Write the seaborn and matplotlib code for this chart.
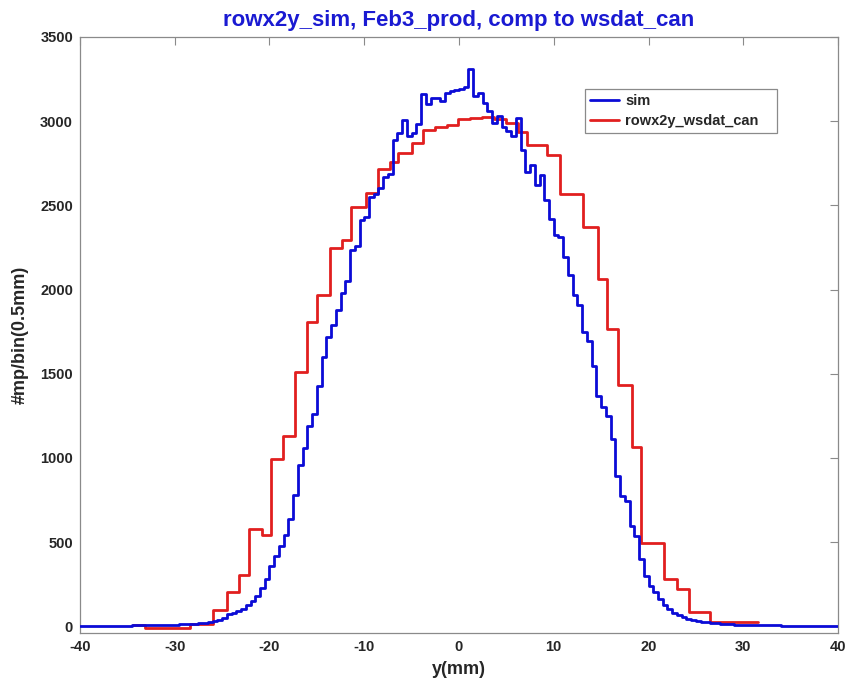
import numpy as np
import pandas as pd
import matplotlib
matplotlib.use("Agg")
import matplotlib.pyplot as plt
import seaborn as sns

# ---------------- data ----------------
title_text = "rowx2y_sim, Feb3_prod, comp to wsdat_can"
x_label = "y(mm)"
y_label = "#mp/bin(0.5mm)"
sim_label = "sim"
can_label = "rowx2y_wsdat_can"

x_ticks = [-40, -30, -20, -10, 0, 10, 20, 30, 40]
y_ticks = [0, 500, 1000, 1500, 2000, 2500, 3000, 3500]

# simulated histogram, 0.5 mm bins starting at -40 mm
sim_x_start = -40.0
sim_bin_width = 0.5
sim_counts = [
    2, 2, 2, 2, 3, 3, 3, 3, 4, 4,                       # -40 .. -35
    4, 5, 5, 5, 6, 6, 7, 8, 8, 9,                       # -35 .. -30
    10, 11, 12, 14, 16, 18, 21, 25,                     # -30 .. -26
    30, 40, 50, 70, 80, 90, 105, 125, 150, 180,         # -26 .. -21
    230, 280, 355, 415, 475, 545, 635, 780, 960, 1060,  # -21 .. -16
    1190, 1260, 1425, 1600, 1720, 1790, 1880, 1980, 2050, 2236,  # -16 .. -11
    2260, 2414, 2430, 2552, 2570, 2605, 2670, 2685, 2888, 2930,  # -11 .. -6
    3006, 2910, 2930, 2985, 3160, 3100, 3135, 3140, 3120, 3170,  # -6 .. -1
    3180, 3185, 3190, 3205, 3310, 3150, 3170, 3110, 3060, 2990,  # -1 .. 4
    3030, 2965, 2940, 2910, 3016, 2830, 2700, 2740, 2620, 2680,  # 4 .. 9
    2530, 2420, 2325, 2310, 2196, 2087, 1969, 1909, 1750, 1692,  # 9 .. 14
    1543, 1370, 1300, 1250, 1115, 895, 775, 745, 595, 535,       # 14 .. 19
    400, 300, 240, 205, 160, 125, 100, 80, 68, 55,               # 19 .. 24
    45, 38, 32, 28, 24, 20, 17, 14, 12, 11,                      # 24 .. 29
    10, 9,                                                       # 29 .. 30
    8, 7, 7, 6, 6, 5, 5, 5, 4, 4,                                # 30 .. 35
    4, 3, 3, 3, 3, 3, 2, 2, 2, 2,                                # 35 .. 40
]

# measured (wire scanner) profile: step edges (mm) and levels
can_edges = [-34.4, -33.14, -28.39, -26.0, -24.52, -23.22, -22.2, -20.82,
             -19.81, -18.54, -17.31, -16.07, -14.96, -13.61, -12.38, -11.35,
             -9.82, -8.52, -7.28, -6.41, -4.99, -3.77, -2.53, -1.30, -0.11,
             1.16, 2.43, 3.69, 4.96, 6.23, 7.18, 9.29, 10.66, 13.12, 14.70,
             15.67, 16.83, 18.23, 19.21, 21.64, 22.98, 24.31, 26.49, 31.59]
can_levels = [6, -8, 12, 97, 206, 302, 575, 545,
              992, 1132, 1510, 1810, 1969, 2249, 2295, 2492,
              2572, 2714, 2760, 2812, 2868, 2947, 2965, 2980, 3012,
              3020, 3022, 3010, 2990, 2935, 2860, 2798, 2568, 2374, 2065,
              1768, 1435, 1063, 496, 279, 219, 85, 28]

# ---------------- figure ----------------
sns.set_style("white")
plt.rcParams["font.family"] = ["Liberation Sans", "DejaVu Sans"]
plt.rcParams["font.weight"] = "bold"

W, H = 858, 679
fig = plt.figure(figsize=(W / 100, H / 100), dpi=100)
ax = fig.add_axes([80 / W, 1 - 633 / H, 758 / W, 596 / H])

sim_edges = sim_x_start + sim_bin_width * np.arange(len(sim_counts) + 1)
sim_df = pd.DataFrame({"x": sim_edges, "y": list(sim_counts) + [sim_counts[-1]]})
can_df = pd.DataFrame({"x": can_edges, "y": list(can_levels) + [can_levels[-1]]})

blue = "#0b0bd6"
red = "#e11f1f"

sns.lineplot(data=sim_df, x="x", y="y", drawstyle="steps-post", estimator=None,
             sort=False, color=blue, linewidth=2.0, label=sim_label, ax=ax, zorder=3)
sns.lineplot(data=can_df, x="x", y="y", drawstyle="steps-post", estimator=None,
             sort=False, color=red, linewidth=2.0, label=can_label, ax=ax, zorder=2)

ax.set_xlim(-40, 40)
ax.set_ylim(-40, 3500)
ax.set_xticks(x_ticks)
ax.set_yticks(y_ticks)
ax.set_xticklabels([str(t) for t in x_ticks], fontsize=10.5, fontweight="bold")
ax.set_yticklabels([str(t) for t in y_ticks], fontsize=10.5, fontweight="bold")
ax.tick_params(direction="in", top=True, right=True, length=5.5, width=0.8,
               color="#8a8a8a", pad=5)
for s in ax.spines.values():
    s.set_color("#8a8a8a")
    s.set_linewidth(0.9)

ax.set_xlabel(x_label, fontsize=13, fontweight="bold", labelpad=5)
ax.set_ylabel(y_label, fontsize=13, fontweight="bold", labelpad=8)
ax.set_title(title_text, fontsize=16, fontweight="bold", color="#1a1ad2", pad=8)

# legend box: pixel box (585..777, 89..134) expressed in axes fraction
lx0 = (585 - 80) / 758
lw = (777 - 585) / 758
ltop = (633 - 89) / 596
lh = (134 - 89) / 596
leg = ax.legend(loc="upper left", bbox_to_anchor=(lx0, ltop - lh, lw, lh),
                mode="expand", frameon=True,
                fancybox=False, edgecolor="#8a8a8a", framealpha=1,
                prop={"size": 10.5, "weight": "bold"}, handlelength=2.0,
                handletextpad=0.4, labelspacing=0.4, borderpad=0.35,
                borderaxespad=0)
leg.get_frame().set_linewidth(0.9)

fig.savefig("out.png", dpi=100)
